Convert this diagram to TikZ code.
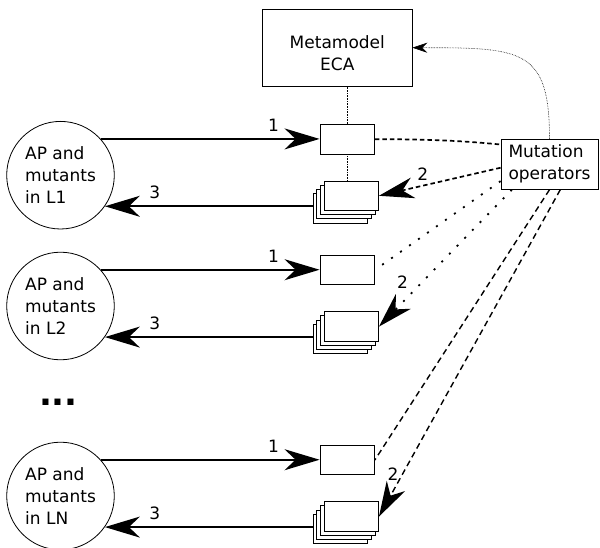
\documentclass[tikz,border=0pt]{standalone}
\usepackage{fontspec}
\setmainfont{DejaVu Sans}
\usetikzlibrary{arrows.meta,calc,positioning}

\begin{document}
\begin{tikzpicture}[x=1pt, y=-1pt,
    every node/.style={font=\fontsize{17}{22}\selectfont},
    box/.style={draw, rectangle, line width=0.8pt, fill=white, minimum width=54.5pt, minimum height=29.7pt, inner sep=0pt},
    pool/.style={draw, circle, line width=0.8pt, minimum size=107.6pt, inner sep=0pt, align=left},
    tip/.style={-{Stealth[length=35pt,width=21pt,inset=11pt]}},
    flow/.style={line width=1.6pt, tip},
    link/.style={line width=0.6pt, densely dotted},
    thickdash/.style={line width=1.7pt, dash pattern=on 4.5pt off 3pt},
    dotline/.style={line width=1.8pt, dash pattern=on 2pt off 9pt},
    dashline/.style={line width=1.4pt, dash pattern=on 6pt off 4pt}
]
\useasboundingbox (0,0) rectangle (600,548);

\node[draw, line width=0.8pt, minimum width=149.3pt, minimum height=76.7pt, align=center, text height=45pt, text depth=0pt] (mm) at (337.3,47.7) {Metamodel\\ECA};
\node[draw, line width=0.8pt, minimum width=97pt, minimum height=50pt, align=left] (mut) at (549.5,164.3) {Mutation\\operators};

% one row per language level
\foreach \r/\y in {1/139.2, 2/270, N/460}{
  \node[pool] (c\r) at (60.5,\y+36) {AP and\\mutants\\in L\r};
  \node[box] (b\r) at (347.2,\y) {};
  \foreach \k/\n in {3/a, 2/b, 1/c, 0/d}
    \node[box] (s\r\n) at (351.3-3.6*\k,\y+56.6+4.1*\k) {};
  \draw[flow] (c\r.42) -- node[pos=0.79, above=3pt] {1} (c\r.42 -| b\r.west);
  \draw[flow] (c\r.-35 -| s\r a.west) -- node[pos=0.76, above=3pt] {3} (c\r.-35);
}

\node[font=\fontsize{34}{34}\selectfont\bfseries] (dots) at (58.4,402) {...};

% metamodel links
\draw[link] (b1.north) -- (b1.north |- mm.south);
\draw[link] (b1.south) -- (b1.south |- s1d.north);
\draw[link, -{Stealth[length=15pt,width=10pt,inset=5pt]}] (mut.north) .. controls +(0,-90) and +(110,0) .. (mm.east);

% mutation operators
\draw[thickdash] (b1.east) .. controls +(50,0) and +(-40,-4) .. (mut.158);
\draw[thickdash, tip] (mut.184) -- node[pos=0.64, above=1pt] {2} (s1d.east);
\draw[dotline] (mut.199) -- (b2.east);
\draw[dotline, tip] (mut.214) -- node[pos=0.75, above left=0pt] {2} (s2d.east);
\draw[dashline] (mut.south) -- (bN.east);
\draw[dashline, tip] (mut.293) -- node[pos=0.87, left] {2} (sNd.east);
\end{tikzpicture}
\end{document}
